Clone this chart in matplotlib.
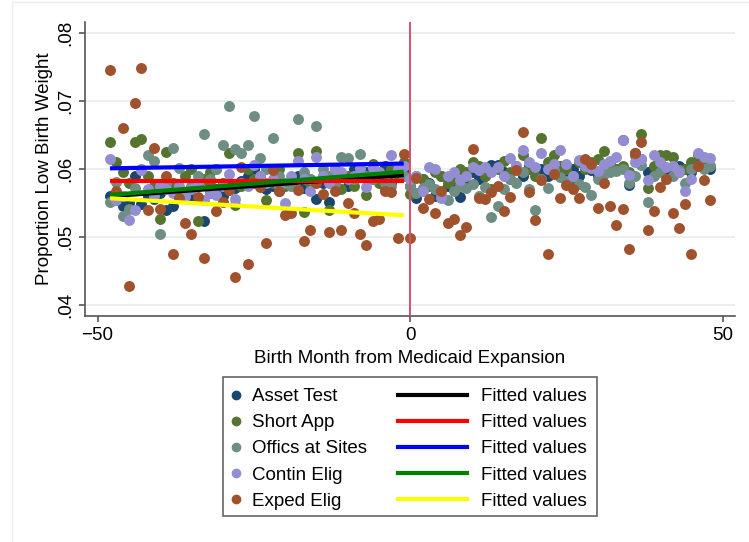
import numpy as np
import matplotlib
matplotlib.use("Agg")
import matplotlib.pyplot as plt
from matplotlib.lines import Line2D
from matplotlib.patches import Rectangle

plt.rcParams['font.family'] = ['Liberation Sans', 'DejaVu Sans']

# months relative to expansion, -48 .. 48
months = np.arange(-48, 49)

# values, pre (-48..-1) then post (0..48)
asset_pre = [.0560, .0555, .0545, .0550, .0590, .0548, .0560, .0556, .0565, .0540, .0545, .0570,
             .0562, .0558, .0575, .0523, .0565, .0570, .0560, .0578, .0572, .0582, .0590, .0600,
             .0585, .0570, .0575, .0568, .0580, .0578, .0590, .0572, .0585, .0556, .0580, .0552,
             .0585, .0590, .0575, .0600, .0588, .0595, .0585, .0590, .0605, .0580, .0595, .0600]
asset_post = [.0575, .0557, .0585, .0580, .0560, .0590, .0575, .0570, .0559, .0580, .0595, .0585,
              .0590, .0606, .0606, .0595, .0585, .0600, .0590, .0605, .0595, .0600, .0590, .0605,
              .0598, .0588, .0600, .0590, .0605, .0598, .0590, .0600, .0610, .0600, .0643, .0576,
              .0623, .0615, .0596, .0600, .0610, .0600, .0598, .0605, .0600, .0595, .0610, .0605, .0600]

short_pre = [.0640, .0610, .0595, .0580, .0640, .0644, .0590, .0575, .0526, .0625, .0580, .0570,
             .0590, .0600, .0523, .0585, .0595, .0600, .0580, .0623, .0547, .0575, .0600, .0585,
             .0590, .0554, .0580, .0600, .0575, .0585, .0623, .0537, .0580, .0626, .0590, .0540,
             .0600, .0570, .0590, .0575, .0600, .0562, .0608, .0580, .0570, .0600, .0590, .0610]
short_post = [.0564, .0590, .0585, .0575, .0595, .0590, .0580, .0585, .0600, .0595, .0610, .0605,
              .0590, .0570, .0600, .0612, .0595, .0605, .0620, .0600, .0590, .0645, .0610, .0620,
              .0605, .0600, .0585, .0610, .0600, .0610, .0615, .0627, .0610, .0600, .0605, .0595,
              .0620, .0652, .0572, .0605, .0620, .0621, .0618, .0595, .0600, .0610, .0620, .0615, .0605]

offics_pre = [.0552, .0581, .0531, .0541, .0572, .0600, .0621, .0612, .0505, .0580, .0631, .0601,
              .0560, .0575, .0590, .0652, .0585, .0600, .0636, .0692, .0629, .0623, .0636, .0678,
              .0616, .0600, .0645, .0590, .0580, .0575, .0673, .0595, .0585, .0663, .0600, .0590,
              .0580, .0618, .0616, .0585, .0622, .0590, .0585, .0595, .0580, .0575, .0600, .0590]
offics_post = [.0575, .0565, .0572, .0578, .0570, .0560, .0555, .0568, .0575, .0572, .0578, .0560,
               .0574, .0530, .0545, .0570, .0585, .0580, .0595, .0570, .0540, .0585, .0572, .0598,
               .0588, .0583, .0590, .0578, .0574, .0562, .0585, .0592, .0595, .0597, .0600, .0579,
               .0590, .0606, .0552, .0590, .0595, .0585, .0590, .0598, .0580, .0600, .0605, .0600, .0605]

contin_pre = [.0614, .0555, .0560, .0525, .0540, .0599, .0570, .0560, .0575, .0570, .0565, .0575,
              .0560, .0570, .0580, .0555, .0565, .0562, .0575, .0592, .0556, .0580, .0575, .0606,
              .0590, .0580, .0585, .0575, .0550, .0590, .0612, .0585, .0567, .0618, .0590, .0580,
              .0600, .0595, .0585, .0590, .0601, .0574, .0602, .0595, .0590, .0621, .0600, .0605]
contin_post = [.0586, .0590, .0568, .0603, .0600, .0557, .0589, .0595, .0584, .0589, .0603, .0598,
               .0603, .0595, .0603, .0589, .0616, .0605, .0628, .0611, .0603, .0623, .0600, .0607,
               .0628, .0607, .0590, .0613, .0605, .0601, .0597, .0608, .0612, .0618, .0643, .0591,
               .0610, .0615, .0584, .0621, .0611, .0603, .0605, .0596, .0568, .0586, .0623, .0618, .0616]

exped_pre = [.0746, .0567, .0660, .0428, .0697, .0749, .0540, .0631, .0541, .0590, .0475, .0557,
             .0520, .0504, .0559, .0469, .0578, .0538, .0551, .0569, .0442, .0603, .0460, .0580,
             .0574, .0492, .0599, .0568, .0532, .0535, .0569, .0494, .0510, .0579, .0564, .0508,
             .0568, .0510, .0550, .0536, .0504, .0489, .0524, .0527, .0568, .0566, .0499, .0622]
exped_post = [.0498, .0587, .0542, .0556, .0536, .0568, .0520, .0527, .0503, .0515, .0629, .0557,
              .0556, .0566, .0575, .0538, .0559, .0599, .0654, .0566, .0525, .0584, .0475, .0592,
              .0557, .0576, .0571, .0558, .0615, .0607, .0543, .0579, .0545, .0518, .0541, .0482,
              .0624, .0639, .0510, .0538, .0573, .0585, .0535, .0513, .0548, .0475, .0605, .0584, .0554]

labels = ["Asset Test", "Short App", "Offics at Sites", "Contin Elig", "Exped Elig"]
series = [asset_pre + asset_post, short_pre + short_post, offics_pre + offics_post,
          contin_pre + contin_post, exped_pre + exped_post]
colors = ["#1a476f", "#55752f", "#6e8e84", "#938dd2", "#a0522d"]

# fitted values (pre-period only), value at month -48 and at month -1
fit_months = [-48, -1]
fit_start = [.0560, .0583, .0601, .0562, .0557]
fit_end = [.0591, .0583, .0608, .0596, .0532]
fit_colors = ["black", "red", "blue", "green", "yellow"]

fig = plt.figure(figsize=(7.49, 5.42), dpi=100)
ax = fig.add_axes([85/749, 1-316/542, 650/749, 294/542])

for vals, c in zip(series, colors):
    ax.scatter(months, vals, s=62, color=c, linewidths=0, zorder=3)

for y0, y1, c in zip(fit_start, fit_end, fit_colors):
    ax.plot(fit_months, [y0, y1], color=c, lw=3, solid_capstyle='butt', zorder=4)

ax.axvline(0, color="#d94f70", lw=1.4, zorder=5)

ax.set_xlim(-52, 52)
ax.set_ylim(0.0384, 0.0816)
ax.set_xticks([-50, 0, 50])
ax.set_yticks([.04, .05, .06, .07, .08])
ax.set_yticklabels([".04", ".05", ".06", ".07", ".08"], rotation=90, va='center')
ax.grid(axis='y', color="#e6eef0", lw=1.2, zorder=0)
ax.set_axisbelow(True)
for side in ['top', 'right']:
    ax.spines[side].set_visible(False)
for side in ['left', 'bottom']:
    ax.spines[side].set_color("#555555")
    ax.spines[side].set_linewidth(1.2)
ax.tick_params(length=4, width=1.2, color="#555555", labelsize=13.5, pad=4)
ax.set_xlabel("Birth Month from Medicaid Expansion", fontsize=13.5, labelpad=4)
ax.set_ylabel("Proportion Low Birth Weight", fontsize=13.5, labelpad=3)

# legend: markers on the left, fitted lines on the right
mk = [Line2D([], [], ls='none', marker='o', ms=6, color=c) for c in colors]
ln = [Line2D([], [], color=c, lw=3) for c in fit_colors]
leg1 = fig.legend(mk, labels, loc='upper left', bbox_to_anchor=(229/749, 1-388/542),
                  frameon=False, fontsize=13.5, handlelength=0.7, handletextpad=0.5,
                  labelspacing=0.48, borderpad=0, borderaxespad=0)
leg2 = fig.legend(ln, ["Fitted values"] * 5, loc='upper left', bbox_to_anchor=(398/749, 1-388/542),
                  frameon=False, fontsize=13.5, handlelength=3.7, handletextpad=0.7,
                  labelspacing=0.48, borderpad=0, borderaxespad=0)
fig.add_artist(Rectangle((223/749, 1-516/542), 374/749, 139/542, transform=fig.transFigure,
                         fill=False, edgecolor="#666666", lw=1.2))
# faint outer graph region border
fig.add_artist(Rectangle((12/749, -0.01), 1.0, 1-2/542+0.01, transform=fig.transFigure,
                         fill=False, edgecolor="#eeeeee", lw=1))

fig.savefig("out.png", dpi=100)
